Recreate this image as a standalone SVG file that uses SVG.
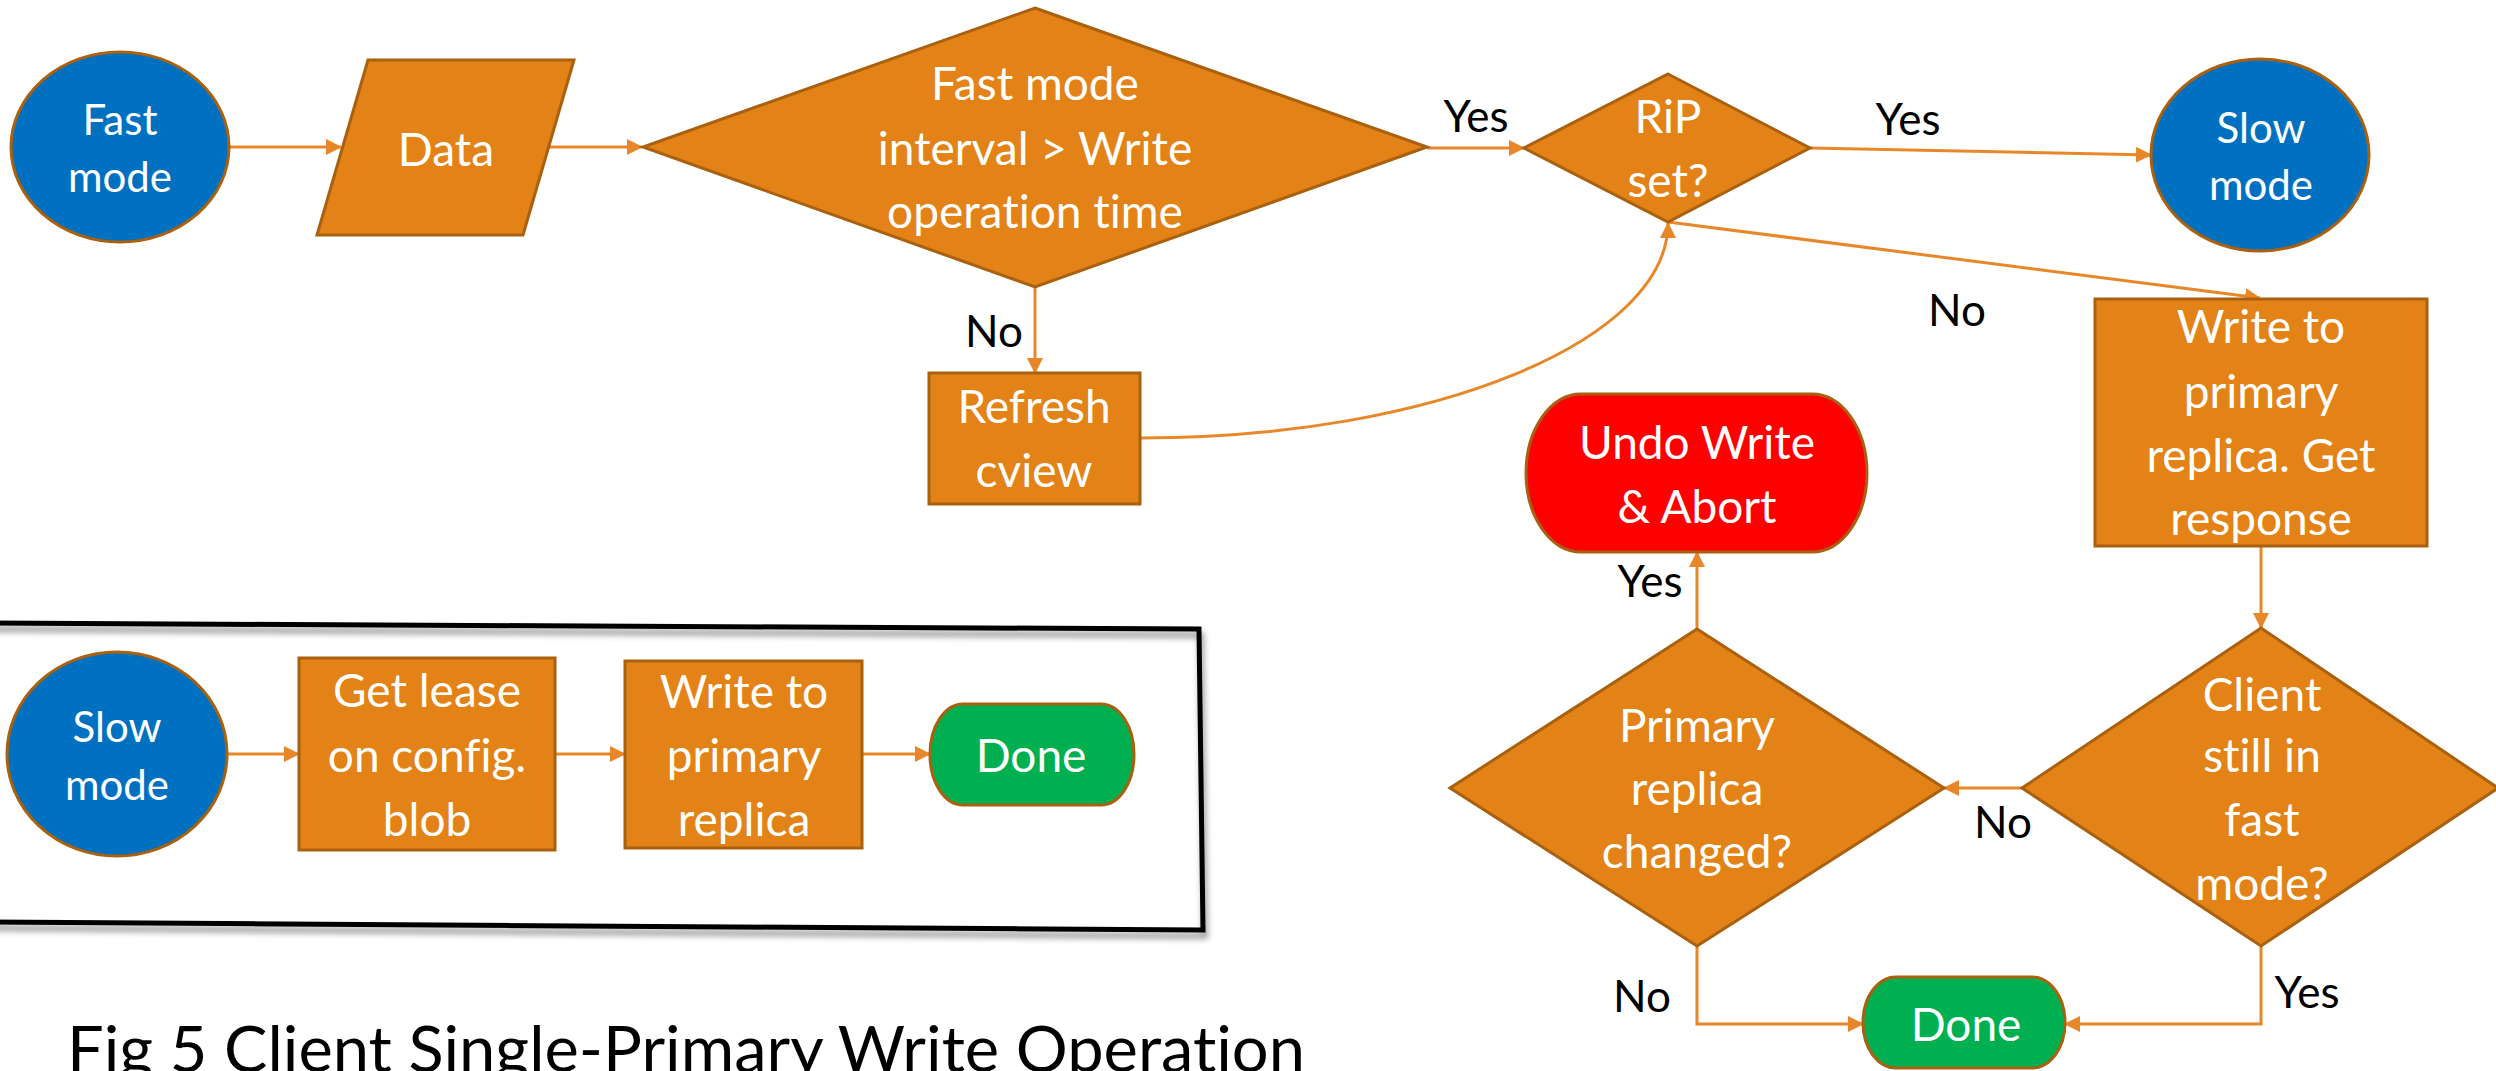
<svg xmlns="http://www.w3.org/2000/svg" width="2496" height="1071" viewBox="0 0 2496 1071">
  <style>
    text { font-variant-ligatures: none; font-feature-settings: "liga" 0, "clig" 0; }
    .proc { fill: #E38216; stroke: #A9600F; stroke-width: 3; }
    .start { fill: #0070C0; stroke: #A9600F; stroke-width: 3; }
    .ok { fill: #00B050; stroke: #A9600F; stroke-width: 3; }
    .abort { fill: #FF0000; stroke: #A9600F; stroke-width: 3; }
    .t { font-family: Lato, "Liberation Sans", sans-serif; fill: #FFFFFF; text-anchor: middle; font-size: 46px; }
    .tm { font-size: 42px; }
    .lbl { font-family: Lato, "Liberation Sans", sans-serif; fill: #000000; text-anchor: middle; font-size: 44px; }
    .conn { fill: none; stroke: #E8872A; stroke-width: 3; marker-end: url(#ah); }
  </style>
  <defs>
    <marker id="ah" viewBox="0 0 16 16" refX="15" refY="8" markerWidth="16" markerHeight="16" markerUnits="userSpaceOnUse" orient="auto">
      <path d="M0,0 L16,8 L0,16 z" fill="#E8872A"/>
    </marker>
    <filter id="shadow" x="-5%" y="-10%" width="110%" height="125%">
      <feDropShadow dx="2" dy="6" stdDeviation="3" flood-color="#000000" flood-opacity="0.45"/>
    </filter>
  </defs>

  <rect width="2496" height="1071" fill="#FFFFFF"/>

  <!-- slow-mode legend frame -->
  <g id="legend-frame">
    <path d="M-20,623 L1199,629 L1203,930 L-20,922 Z" fill="none" stroke="#000000" stroke-width="5" filter="url(#shadow)"/>
  </g>

  <!-- connectors -->
  <g id="connectors">
    <line class="conn" x1="230" y1="147" x2="341" y2="147"/>
    <line class="conn" x1="549" y1="147" x2="642" y2="147"/>
    <line class="conn" x1="1427" y1="148" x2="1524" y2="148"/>
    <line class="conn" x1="1810" y1="148" x2="2151" y2="155"/>
    <line class="conn" x1="1668" y1="222" x2="2260" y2="298"/>
    <line class="conn" x1="1035" y1="287" x2="1035" y2="373"/>
    <path class="conn" d="M1140,438 C1435,438 1668,340 1668,223"/>
    <line class="conn" x1="2261" y1="546" x2="2261" y2="628"/>
    <line class="conn" x1="2022" y1="788" x2="1944" y2="788"/>
    <line class="conn" x1="1697" y1="629" x2="1697" y2="552"/>
    <path class="conn" d="M1697,946 L1697,1024 L1863,1024"/>
    <path class="conn" d="M2261,946 L2261,1024 L2065,1024"/>
    <line class="conn" x1="227" y1="754" x2="299" y2="754"/>
    <line class="conn" x1="555" y1="754" x2="625" y2="754"/>
    <line class="conn" x1="862" y1="754" x2="930" y2="754"/>
  </g>

  <!-- connector labels -->
  <g id="labels">
    <text class="lbl" x="1476" y="132">Yes</text>
    <text class="lbl" x="1908" y="135">Yes</text>
    <text class="lbl" x="1957" y="326">No</text>
    <text class="lbl" x="994" y="347">No</text>
    <text class="lbl" x="1650" y="597">Yes</text>
    <text class="lbl" x="2003" y="838">No</text>
    <text class="lbl" x="1642" y="1012">No</text>
    <text class="lbl" x="2307" y="1008">Yes</text>
  </g>

  <g id="fast-mode">
    <ellipse class="start" cx="120" cy="147" rx="109" ry="95"/>
    <text class="t tm" x="120" y="135">Fast</text>
    <text class="t tm" x="120" y="192">mode</text>
  </g>

  <g id="data">
    <polygon class="proc" points="368,60 574,60 523,235 317,235"/>
    <text class="t" x="446" y="166">Data</text>
  </g>

  <g id="interval-check">
    <polygon class="proc" points="1035,8 1427,147 1035,287 643,147"/>
    <text class="t" x="1035" y="100">Fast mode</text>
    <text class="t" x="1035" y="165">interval &gt; Write</text>
    <text class="t" x="1035" y="228">operation time</text>
  </g>

  <g id="rip-set">
    <polygon class="proc" points="1668,74 1810,148 1668,222 1524,148"/>
    <text class="t" x="1668" y="133">RiP</text>
    <text class="t" x="1668" y="197">set?</text>
  </g>

  <g id="slow-mode">
    <ellipse class="start" cx="2260" cy="155" rx="109" ry="96"/>
    <text class="t tm" x="2261" y="143">Slow</text>
    <text class="t tm" x="2261" y="200">mode</text>
  </g>

  <g id="refresh-cview">
    <rect class="proc" x="929" y="373" width="211" height="131"/>
    <text class="t" x="1034" y="423">Refresh</text>
    <text class="t" x="1034" y="487">cview</text>
  </g>

  <g id="write-primary">
    <rect class="proc" x="2095" y="299" width="332" height="247"/>
    <text class="t" x="2261" y="343">Write to</text>
    <text class="t" x="2261" y="408">primary</text>
    <text class="t" x="2261" y="472">replica. Get</text>
    <text class="t" x="2261" y="535">response</text>
  </g>

  <g id="undo-abort">
    <rect class="abort" x="1526" y="394" width="341" height="158" rx="55" ry="79"/>
    <text class="t" x="1697" y="459">Undo Write</text>
    <text class="t" x="1697" y="523">&amp; Abort</text>
  </g>

  <g id="primary-changed">
    <polygon class="proc" points="1697,629 1944,788 1697,946 1450,788"/>
    <text class="t" x="1697" y="742">Primary</text>
    <text class="t" x="1697" y="805">replica</text>
    <text class="t" x="1697" y="868">changed?</text>
  </g>

  <g id="client-fast">
    <polygon class="proc" points="2261,628 2498,788 2261,946 2022,788"/>
    <text class="t" x="2262" y="711">Client</text>
    <text class="t" x="2262" y="772">still in</text>
    <text class="t" x="2262" y="836">fast</text>
    <text class="t" x="2262" y="900">mode?</text>
  </g>

  <g id="done">
    <rect class="ok" x="1863" y="977" width="202" height="91" rx="33" ry="45"/>
    <text class="t" x="1966" y="1041">Done</text>
  </g>

  <g id="legend-slow-mode">
    <ellipse class="start" cx="117" cy="754" rx="110" ry="102"/>
    <text class="t tm" x="117" y="742">Slow</text>
    <text class="t tm" x="117" y="800">mode</text>
  </g>

  <g id="legend-get-lease">
    <rect class="proc" x="299" y="658" width="256" height="192"/>
    <text class="t" x="427" y="707">Get lease</text>
    <text class="t" x="427" y="772">on config.</text>
    <text class="t" x="427" y="836">blob</text>
  </g>

  <g id="legend-write">
    <rect class="proc" x="625" y="661" width="237" height="187"/>
    <text class="t" x="744" y="708">Write to</text>
    <text class="t" x="744" y="772">primary</text>
    <text class="t" x="744" y="836">replica</text>
  </g>

  <g id="legend-done">
    <rect class="ok" x="930" y="704" width="204" height="101" rx="33" ry="50"/>
    <text class="t" x="1031" y="772">Done</text>
  </g>

  <g id="caption">
    <text x="67" y="1072" font-family="Lato, 'Liberation Sans', sans-serif" font-size="64" fill="#000000" textLength="1238" lengthAdjust="spacingAndGlyphs">Fig 5 Client Single-Primary Write Operation</text>
  </g>
</svg>
